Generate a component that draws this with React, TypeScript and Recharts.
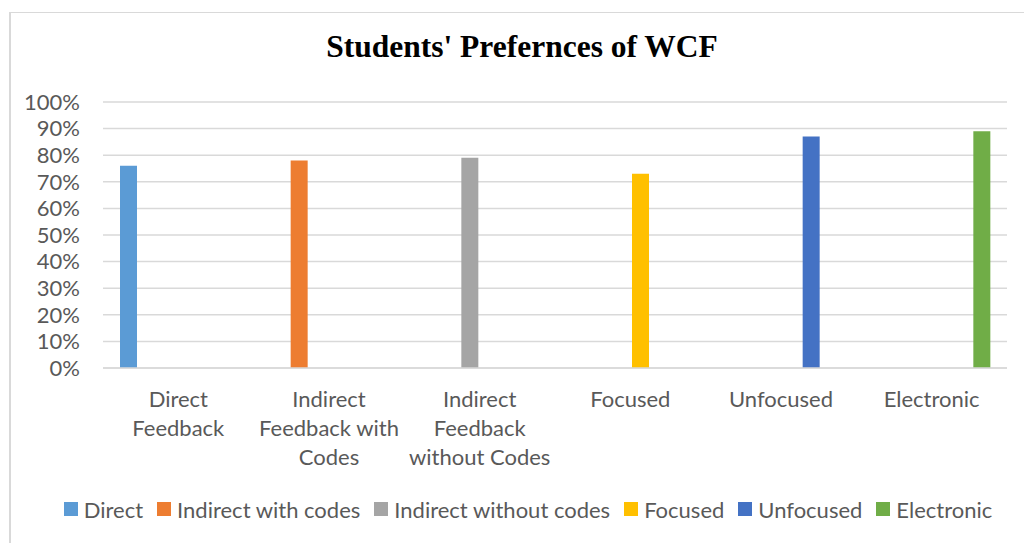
import { Bar, BarChart, CartesianGrid, Legend, XAxis, YAxis } from "recharts";

const categories = [
  "Direct Feedback",
  "Indirect Feedback with Codes",
  "Indirect Feedback without Codes",
  "Focused",
  "Unfocused",
  "Electronic",
];
const seriesNames = [
  "Direct",
  "Indirect with codes",
  "Indirect without codes",
  "Focused",
  "Unfocused",
  "Electronic",
];
const seriesColors = ["#5B9BD5", "#ED7D31", "#A5A5A5", "#FFC000", "#4472C4", "#70AD47"];
// each category only carries the value of its own series
const preferenceValues = [76, 78, 79, 73, 87, 89];
const yTicks = [0, 10, 20, 30, 40, 50, 60, 70, 80, 90, 100];

const rows = categories.map((category, i) => {
  const row: Record<string, string | number | null> = { category };
  seriesNames.forEach((name, j) => {
    row[name] = i === j ? preferenceValues[i] : null;
  });
  return row;
});

const FONT = "Lato, 'Open Sans', sans-serif";
const TEXT_COLOR = "#595959";
const TICK_SIZE = 22;

let ctx: CanvasRenderingContext2D | null = null;
function textWidth(s: string) {
  if (!ctx) ctx = document.createElement("canvas").getContext("2d");
  if (!ctx) return s.length * TICK_SIZE * 0.5;
  ctx.font = `${TICK_SIZE}px Lato`;
  return ctx.measureText(s).width;
}

// word wrap like Excel does inside a category slot
function wrap(label: string, maxWidth: number) {
  const lines: string[] = [];
  let cur = "";
  label.split(" ").forEach((w) => {
    const next = cur ? cur + " " + w : w;
    if (cur && textWidth(next) > maxWidth) {
      lines.push(cur);
      cur = w;
    } else {
      cur = next;
    }
  });
  if (cur) lines.push(cur);
  return lines;
}

function CategoryTick({ x, y, payload }: any) {
  const lines = wrap(String(payload.value), 148);
  return (
    <text x={x} y={y} textAnchor="middle" fill={TEXT_COLOR} fontSize={TICK_SIZE} fontFamily={FONT}>
      {lines.map((line, i) => (
        <tspan key={i} x={x} dy={i === 0 ? 39 : 29}>
          {line}
        </tspan>
      ))}
    </text>
  );
}

function LegendRow() {
  return (
    <div
      style={{
        display: "flex",
        justifyContent: "center",
        alignItems: "center",
        gap: 14,
        fontFamily: FONT,
        fontSize: TICK_SIZE,
        color: TEXT_COLOR,
        height: 60,
        paddingBottom: 8,
        paddingLeft: 49,
        boxSizing: "border-box",
      }}
    >
      {seriesNames.map((name, j) => (
        <span key={name} style={{ display: "flex", alignItems: "center" }}>
          <span style={{ width: 14, height: 14, background: seriesColors[j], marginRight: 6 }} />
          {name}
        </span>
      ))}
    </div>
  );
}

export default function App() {
  return (
    <div style={{ position: "absolute", left: 0, top: 0, width: 1024, height: 543, background: "#fff", overflow: "hidden" }}>
      <div
        style={{
          position: "absolute",
          left: 9,
          top: 12,
          width: 1100,
          height: 600,
          borderTop: "1px solid #d9d9d9",
          borderLeft: "2px solid #d9d9d9",
        }}
      />
      <div
        style={{
          position: "absolute",
          left: 0,
          top: 29,
          width: 1044,
          textAlign: "center",
          fontFamily: "'Liberation Serif', 'Times New Roman', serif",
          fontWeight: "bold",
          fontSize: 31.5,
          lineHeight: "36px",
          color: "#000",
        }}
      >
        Students' Prefernces of WCF
      </div>
      <div style={{ position: "absolute", left: 0, top: 0 }}>
        <BarChart
          width={1024}
          height={543}
          data={rows}
          margin={{ top: 102, right: 17, left: 0, bottom: 0 }}
          barSize={17}
          barGap={3}
        >
          <CartesianGrid stroke="#d9d9d9" strokeWidth={1.5} vertical={false} />
          <XAxis
            dataKey="category"
            height={115}
            interval={0}
            tick={<CategoryTick />}
            tickLine={false}
            tickSize={0}
            tickMargin={0}
            axisLine={{ stroke: "#d9d9d9", strokeWidth: 1.5 }}
          />
          <YAxis
            width={103}
            domain={[0, 100]}
            ticks={yTicks}
            interval={0}
            tickFormatter={(v: number) => `${v}%`}
            tickLine={false}
            axisLine={false}
            tickSize={0}
            tickMargin={23}
            tick={{ fill: TEXT_COLOR, fontSize: TICK_SIZE, fontFamily: FONT }}
          />
          <Legend verticalAlign="bottom" height={60} content={<LegendRow />} />
          {seriesNames.map((name, j) => (
            <Bar key={name} dataKey={name} name={name} fill={seriesColors[j]} isAnimationActive={false} />
          ))}
        </BarChart>
      </div>
    </div>
  );
}
